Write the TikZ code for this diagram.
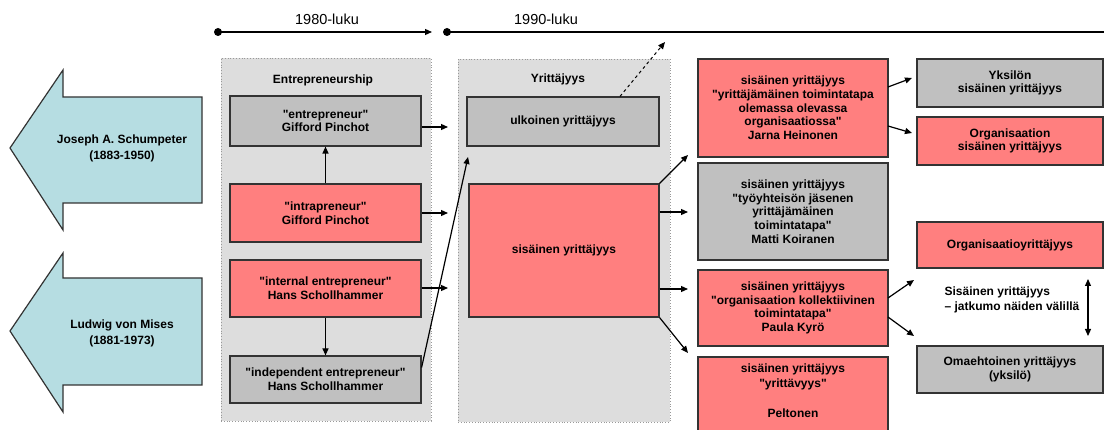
\documentclass[tikz,border=0pt]{standalone}
\usepackage{fontspec}
\setmainfont{Liberation Sans}[Ligatures=TeXOff]
\usetikzlibrary{arrows.meta}
\definecolor{boxred}{HTML}{FF7F7F}
\definecolor{boxgray}{HTML}{C0C0C0}
\definecolor{contgray}{HTML}{DDDDDD}
\definecolor{arrowblue}{HTML}{B6DDE2}
\definecolor{edge}{HTML}{333333}
\begin{document}
\begin{tikzpicture}[x=1pt,y=-1pt,
  every node/.style={font=\fontsize{12}{13.7}\selectfont\bfseries, align=center, inner sep=0pt},
  redbox/.style={draw=edge, line width=1.2pt, fill=boxred},
  graybox/.style={draw=edge, line width=1.2pt, fill=boxgray},
  cont/.style={draw=gray!80, dotted, line width=0.8pt, fill=contgray},
  arr/.style={-{Triangle[length=7pt,width=6pt]}, line width=1.2pt, draw=black},
  dblarr/.style={{Triangle[length=7pt,width=6pt]}-{Triangle[length=7pt,width=6pt]}, line width=1.2pt, draw=black},
  bigarrow/.style={draw=edge, line width=1.2pt, fill=arrowblue},
  tl/.style={font=\fontsize{14.5}{17}\selectfont},
  dot/.style={circle, fill=black, minimum size=8pt, inner sep=0pt}]
\useasboundingbox (0,0) rectangle (1104,430);
\fill[white] (0,0) rectangle (1104,430);

% timeline
\node[dot] (d1) at (218,32) {};
\coordinate (e1) at (432,32);
\draw[arr] (d1.center) -- (e1);
\node[tl] (t1) at (327,19.5) {1980-luku};
\node[dot] (d2) at (447,32) {};
\coordinate (e2) at (1110,32);
\draw[line width=1.2pt] (d2.center) -- (e2);
\node[tl] (t2) at (546,19.5) {1990-luku};

% left big arrows
\draw[bigarrow] (10,148) -- (63,70) -- (63,97) -- (202,97) -- (202,203) -- (63,203) -- (63,230) -- cycle;
\node[font=\fontsize{12}{16}\selectfont\bfseries] (js) at (122,148) {Joseph A. Schumpeter\\(1883-1950)};
\draw[bigarrow] (10,331) -- (63,253) -- (63,278) -- (202,278) -- (202,385) -- (63,385) -- (63,412) -- cycle;
\node[font=\fontsize{12}{16}\selectfont\bfseries] (lm) at (122,333) {Ludwig von Mises\\(1881-1973)};

% containers
\node[cont, minimum width=210pt, minimum height=363pt] (c1) at (326,239.5) {};
\node (c1t) at (323,80) {Entrepreneurship};
\node[cont, minimum width=212pt, minimum height=363pt] (c2) at (564,240.5) {};
\node (c2t) at (558,79) {Yrittäjyys};

% column 1
\node[graybox, minimum width=191pt, minimum height=50pt] (ent) at (325.5,121) {"entrepreneur"\\Gifford Pinchot};
\node[redbox, minimum width=191pt, minimum height=58pt] (intra) at (325.5,213) {"intrapreneur"\\Gifford Pinchot};
\node[redbox, minimum width=191pt, minimum height=57pt] (internal) at (325.5,288.5) {"internal entrepreneur"\\Hans Schollhammer};
\node[graybox, minimum width=191pt, minimum height=47pt] (indep) at (325.5,379.5) {"independent entrepreneur"\\Hans Schollhammer};
\draw[arr] (intra.north) -- (ent.south);
\draw[arr] (internal.south) -- (indep.north);

% column 2
\node[graybox, minimum width=192pt, minimum height=49pt] (ulk) at (563,121.5) {ulkoinen yrittäjyys};
\node[redbox, minimum width=190pt, minimum height=133pt] (sis) at (564,250.5) {sisäinen yrittäjyys};

% arrows col1 -> col2
\coordinate (a1) at (448,127);
\coordinate (a2) at (448,213);
\coordinate (a3) at (448,288);
\coordinate (a4) at (468,157);
\draw[arr] (ent.east |- a1) -- (a1);
\draw[arr] (intra.east |- a2) -- (a2);
\draw[arr] (internal.east |- a3) -- (a3);
\draw[arr] ([yshift=12pt]indep.east) -- (a4);
\coordinate (dx) at (620,0);
\coordinate (dt) at (665,42);
\draw[arr, dashed, line width=1pt] (ulk.north -| dx) -- (dt);

% column 3
\node[redbox, minimum width=190pt, minimum height=98pt] (A) at (793,108) {sisäinen yrittäjyys\\"yrittäjämäinen toimintatapa\\olemassa olevassa\\organisaatiossa"\\Jarna Heinonen};
\node[graybox, minimum width=190pt, minimum height=97pt] (B) at (793,211.5) {sisäinen yrittäjyys\\"työyhteisön jäsenen\\yrittäjämäinen\\toimintatapa"\\Matti Koiranen};
\node[redbox, minimum width=190pt, minimum height=76pt] (C) at (793,308) {sisäinen yrittäjyys\\"organisaation kollektiivinen\\toimintatapa"\\Paula Kyrö};
\draw[redbox] (698,357) rectangle (888,445);
\node[font=\fontsize{12}{15}\selectfont\bfseries] (D) at (793,391) {sisäinen yrittäjyys\\"yrittävyys"\\[15pt]Peltonen};

\coordinate (s1) at (688,155);
\coordinate (s2) at (688,212);
\coordinate (s3) at (688,289);
\coordinate (s4) at (688,353);
\draw[arr] (sis.north east) -- (s1);
\draw[arr] (sis.east |- s2) -- (s2);
\draw[arr] (sis.east |- s3) -- (s3);
\draw[arr] (sis.south east) -- (s4);

% column 4
\node[graybox, minimum width=186pt, minimum height=48pt] (yks) at (1010,83) {Yksilön\\sisäinen yrittäjyys};
\node[redbox, minimum width=186pt, minimum height=48pt] (org) at (1010,141) {Organisaation\\sisäinen yrittäjyys};
\node[redbox, minimum width=186pt, minimum height=46pt] (orgy) at (1010,245) {Organisaatioyrittäjyys};
\node[align=left, font=\fontsize{12}{15}\selectfont\bfseries] (mid) at (1012,300) {Sisäinen yrittäjyys\\– jatkumo näiden välillä};
\node[graybox, minimum width=186pt, minimum height=47pt] (oma) at (1010,369.5) {Omaehtoinen yrittäjyys\\(yksilö)};

\coordinate (p1) at (888,87);
\coordinate (q1) at (912,78);
\coordinate (p2) at (888,126);
\coordinate (q2) at (912,133);
\draw[arr] (p1) -- (q1);
\draw[arr] (p2) -- (q2);
\coordinate (p3) at (888,298);
\coordinate (q3) at (914,280);
\coordinate (p4) at (888,317);
\coordinate (q4) at (914,336);
\draw[arr] (p3) -- (q3);
\draw[arr] (p4) -- (q4);
\coordinate (v1) at (1088,279);
\coordinate (v2) at (1088,336);
\draw[dblarr] (v1) -- (v2);
\end{tikzpicture}
\end{document}
